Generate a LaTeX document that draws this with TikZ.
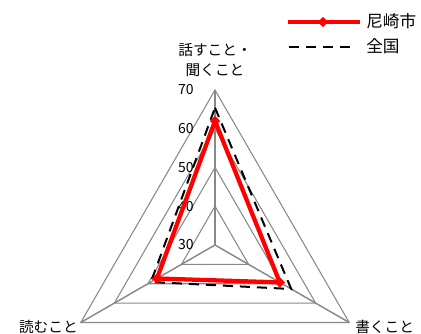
\documentclass[tikz,border=0pt]{standalone}
\usepackage{fontspec}
\setmainfont{Noto Sans CJK JP}
\usetikzlibrary{shapes}
\definecolor{gridgray}{HTML}{898989}
\tikzstyle{ring} = [draw=gridgray, line width=0.8pt]
\tikzstyle{spoke} = [draw=gridgray, line width=1.1pt]
\tikzstyle{city} = [draw=red, line width=3.2pt, line join=round]
\tikzstyle{nation} = [draw=black, line width=1.5pt, dash pattern=on 7.5pt off 5.25pt]
\tikzstyle{marker} = [diamond, fill=red, inner sep=0pt, minimum size=8pt]
\tikzstyle{tick} = [anchor=east, inner sep=0pt, font=\fontsize{10.5}{12}\selectfont]
\tikzstyle{cat} = [inner sep=0pt, font=\fontsize{11}{15}\selectfont]
\tikzstyle{legend} = [anchor=west, inner sep=0pt, font=\fontsize{12.5}{15}\selectfont]

\begin{document}
\begin{tikzpicture}[x=0.75pt, y=0.75pt]
    \useasboundingbox (0,0) rectangle (421,-334);
    \begin{scope}[shift={(215,-245)}]
        \coordinate (o) at (0,0);
        \path[ring] (90:38.75) -- (210:38.75) -- (330:38.75) -- cycle;
        \path[ring] (90:77.5) -- (210:77.5) -- (330:77.5) -- cycle;
        \path[ring] (90:116.25) -- (210:116.25) -- (330:116.25) -- cycle;
        \path[ring] (90:155) -- (210:155) -- (330:155) -- cycle;
        \path[spoke] (o) -- (90:155);
        \path[spoke] (o) -- (210:155);
        \path[spoke] (o) -- (330:155);
        \node[tick] (t30) at (-21,0) {30};
        \node[tick] (t40) at (-21,38.75) {40};
        \node[tick] (t50) at (-21,77.5) {50};
        \node[tick] (t60) at (-21,116.25) {60};
        \node[tick] (t70) at (-21,155) {70};
        \coordinate (nt) at (90:137.2);
        \coordinate (nr) at (330:88);
        \coordinate (nl) at (210:74);
        \path[nation] (nt) -- (nr) -- (nl) -- cycle;
        \coordinate (ct) at (90:124);
        \coordinate (cr) at (330:74.8);
        \coordinate (cl) at (210:67);
        \path[city] (ct) -- (cr) -- (cl) -- cycle;
        \node[marker] (mt) at (ct) {};
        \node[marker] (mr) at (cr) {};
        \node[marker] (ml) at (cl) {};
        \node[cat, align=center] (speak) at (0,185) {話すこと・\\聞くこと};
        \node[cat, anchor=east] (read) at (-137,-82) {読むこと};
        \node[cat, anchor=west] (write) at (140,-82) {書くこと};
    \end{scope}
    \coordinate (la) at (288,-22);
    \coordinate (lb) at (360,-22);
    \path[city] (la) -- (lb);
    \node[marker] (lm) at (323,-22) {};
    \node[legend] (lcity) at (366,-21) {尼崎市};
    \coordinate (lc) at (289,-47);
    \coordinate (ld) at (353,-47);
    \path[nation] (lc) -- (ld);
    \node[legend] (lnation) at (366,-46) {全国};
\end{tikzpicture}
\end{document}
